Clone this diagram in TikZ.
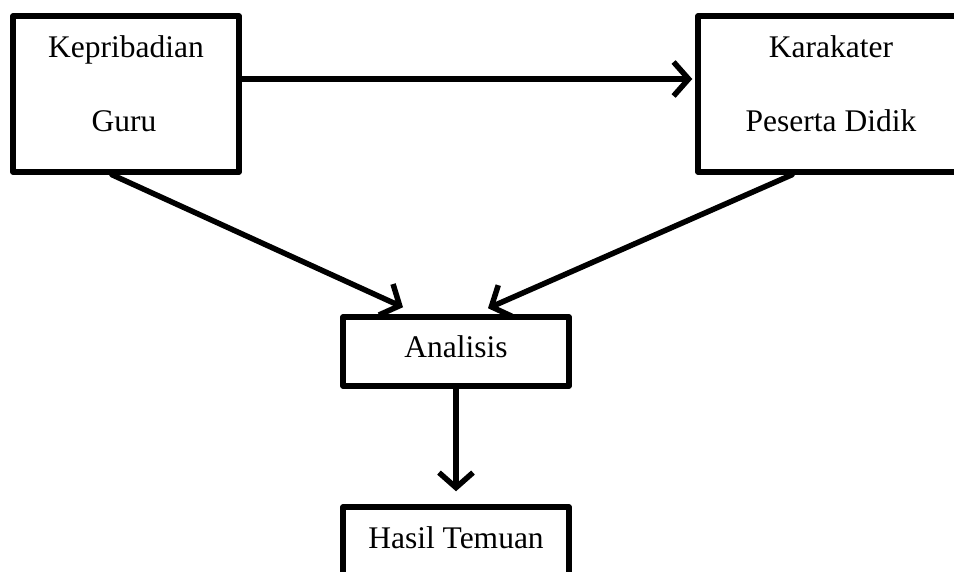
\documentclass[tikz,border=0pt]{standalone}
\usepackage{fontspec}
\setmainfont{Liberation Serif}
\usetikzlibrary{arrows.meta,calc}
\begin{document}
\begin{tikzpicture}[x=1pt,y=-1pt,
  box/.style={draw=black, line width=5.5pt, line join=round, inner sep=0pt, fill=white},
  lbl/.style={anchor=base, inner sep=0pt, font=\fontsize{31.5}{37}\selectfont},
  arr/.style={draw=black, line width=5.5pt, line cap=round,
    -{Straight Barb[length=15pt, width=34pt]}}]
\useasboundingbox (0,0) rectangle (954,572);
\clip (0,0) rectangle (954,572);
% boxes
\node[box, minimum width=226pt, minimum height=156pt] (kg) at (126,94) {};
\node[box, minimum width=266pt, minimum height=156pt] (kpd) at (831,94) {};
\node[box, minimum width=226pt, minimum height=69pt] (an) at (456,351.5) {};
\node[box, minimum width=226pt, minimum height=83pt] (ht) at (456,548.5) {};
% texts
\node[lbl] (t1) at (126,58) {Kepribadian};
\node[lbl] (t2) at (124,132) {Guru};
\node[lbl] (t3) at (831,58) {Karakater};
\node[lbl] (t4) at (831,132) {Peserta Didik};
\node[lbl] (t5) at (456,358) {Analisis};
\node[lbl] (t6) at (456,548) {Hasil Temuan};
% connectors
\draw[arr] ([yshift=15pt]kg.east) -- ([yshift=15pt,xshift=-3pt]kpd.west);
\draw[arr] ([xshift=-14pt]kg.south) -- ([xshift=-53pt,yshift=7pt]an.north);
\draw[arr] ([xshift=-39pt]kpd.south) -- ([xshift=32pt,yshift=6pt]an.north);
\draw[arr] (an.south) -- ([yshift=13pt]ht.north);
\end{tikzpicture}
\end{document}
